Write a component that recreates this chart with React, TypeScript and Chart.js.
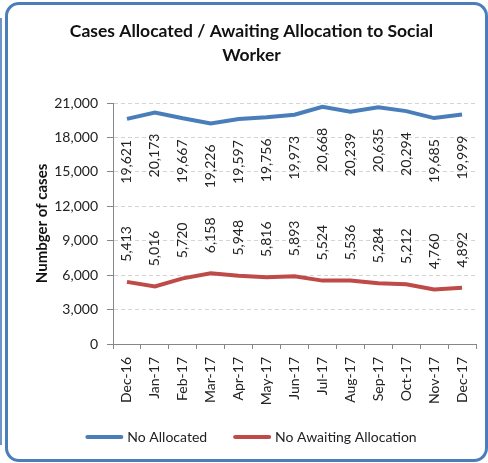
import React, { useEffect, useRef } from 'react';
import { Chart, registerables } from 'chart.js';

Chart.register(...registerables);

const months = ['Dec-16', 'Jan-17', 'Feb-17', 'Mar-17', 'Apr-17', 'May-17', 'Jun-17', 'Jul-17', 'Aug-17', 'Sep-17', 'Oct-17', 'Nov-17', 'Dec-17'];
const allocated = [19621, 20173, 19667, 19226, 19597, 19756, 19973, 20668, 20239, 20635, 20294, 19685, 19999];
const awaiting = [5413, 5016, 5720, 6158, 5948, 5816, 5893, 5524, 5536, 5284, 5212, 4760, 4892];
const seriesNames = ['No Allocated', 'No Awaiting Allocation'];
const chartTitle = ['Cases Allocated / Awaiting Allocation to Social', 'Worker'];
const yAxisTitle = 'Numbger of cases';
const yMin = 0;
const yMax = 21000;
const yStep = 3000;

const BLUE = '#4a7ebb';
const RED = '#be4b48';
const FONT = 'Lato';

const fmt = (v: number) => v.toLocaleString('en-US');

const pointLabels = {
  id: 'pointLabels',
  afterDatasetsDraw(chart: any) {
    const ctx = chart.ctx;
    chart.data.datasets.forEach((ds: any, di: number) => {
      const meta = chart.getDatasetMeta(di);
      meta.data.forEach((pt: any, i: number) => {
        const txt = fmt(ds.data[i]);
        ctx.save();
        ctx.translate(pt.x, pt.y + (di === 0 ? 43 : -38));
        ctx.rotate(-Math.PI / 2);
        ctx.font = `14px ${FONT}`;
        ctx.textAlign = 'center';
        ctx.textBaseline = 'middle';
        ctx.fillStyle = '#222';
        ctx.fillText(txt, 0, 0);
        ctx.restore();
      });
    });
  },
};

// Legend drawn below the axis, centred like the original
const bottomLegend = {
  id: 'bottomLegend',
  afterDraw(chart: any) {
    const ctx = chart.ctx;
    const sw = 38;
    const gapText = 4;
    const gapItem = 26;
    const cy = 437;
    const cx = 251;
    ctx.save();
    ctx.font = `14px ${FONT}`;
    const items = chart.data.datasets.map((ds: any) => ({
      label: ds.label,
      color: ds.borderColor,
      w: ctx.measureText(ds.label).width,
    }));
    const total = items.reduce((s: number, it: any) => s + sw + gapText + it.w, 0) + gapItem * (items.length - 1);
    let x = cx - total / 2;
    items.forEach((it: any) => {
      ctx.strokeStyle = it.color;
      ctx.lineWidth = 4;
      ctx.lineCap = 'round';
      ctx.beginPath();
      ctx.moveTo(x + 2, cy);
      ctx.lineTo(x + sw - 2, cy);
      ctx.stroke();
      x += sw + gapText;
      ctx.fillStyle = '#222';
      ctx.textAlign = 'left';
      ctx.textBaseline = 'middle';
      ctx.fillText(it.label, x, cy);
      x += it.w + gapItem;
    });
    ctx.restore();
  },
};

export default function App() {
  const ref = useRef<HTMLCanvasElement | null>(null);

  useEffect(() => {
    if (!ref.current) return;
    const chart = new Chart(ref.current, {
      type: 'line',
      data: {
        labels: months,
        datasets: [
          {
            label: seriesNames[0],
            data: allocated,
            borderColor: BLUE,
            backgroundColor: BLUE,
            borderWidth: 4,
            pointRadius: 0,
            tension: 0,
          },
          {
            label: seriesNames[1],
            data: awaiting,
            borderColor: RED,
            backgroundColor: RED,
            borderWidth: 4,
            pointRadius: 0,
            tension: 0,
          },
        ],
      },
      options: {
        animation: false,
        responsive: false,
        maintainAspectRatio: false,
        devicePixelRatio: 1,
        layout: { padding: { left: 27, right: 12, top: 0, bottom: 57 } },
        plugins: {
          title: {
            display: true,
            text: chartTitle,
            color: '#111',
            font: { family: FONT, size: 17.5, weight: 'bold', lineHeight: '24px' },
            padding: { top: 19, bottom: 36 },
          },
          legend: { display: false },
          tooltip: { enabled: false },
        },
        scales: {
          x: {
            type: 'category',
            offset: true,
            grid: {
              display: true,
              drawOnChartArea: false,
              drawTicks: true,
              tickLength: 5,
              offset: true,
              color: '#868686',
            },
            border: { display: true, color: '#868686', width: 1 },
            ticks: {
              color: '#222',
              font: { family: FONT, size: 14 },
              minRotation: 90,
              maxRotation: 90,
              padding: 8,
              autoSkip: false,
            },
            afterFit(scale: any) {
              scale.height = 62;
            },
          },
          y: {
            min: yMin,
            max: yMax,
            grid: {
              color: '#d4d4d4',
              tickColor: '#868686',
              tickLength: 6,
              tickBorderDash: [],
            },
            border: { display: true, color: '#868686', width: 1, dash: [4, 3] },
            ticks: {
              stepSize: yStep,
              color: '#222',
              font: { family: FONT, size: 14 },
              padding: 9,
              callback: (v: any) => fmt(Number(v)),
            },
            title: {
              display: true,
              text: yAxisTitle,
              color: '#111',
              font: { family: FONT, size: 15, weight: 'bold' },
              padding: { top: 6, bottom: 0 },
            },
            afterFit(scale: any) {
              scale.width = 86;
            },
          },
        },
      },
      plugins: [pointLabels, bottomLegend],
    });
    return () => chart.destroy();
  }, []);

  return (
    <div style={{ position: 'fixed', left: 0, top: 0, width: 488, height: 463, background: '#fff', overflow: 'hidden' }}>
      <div style={{ position: 'absolute', left: 0, top: 18, width: 2, height: 427, background: '#6f95c8' }} />
      <div
        style={{
          position: 'absolute',
          left: 5,
          top: 2,
          width: 483,
          height: 460,
          border: `3px solid ${BLUE}`,
          borderRadius: 14,
          boxSizing: 'border-box',
        }}
      />
      <canvas ref={ref} width={488} height={463} style={{ position: 'absolute', left: 0, top: 0, width: 488, height: 463 }} />
    </div>
  );
}
